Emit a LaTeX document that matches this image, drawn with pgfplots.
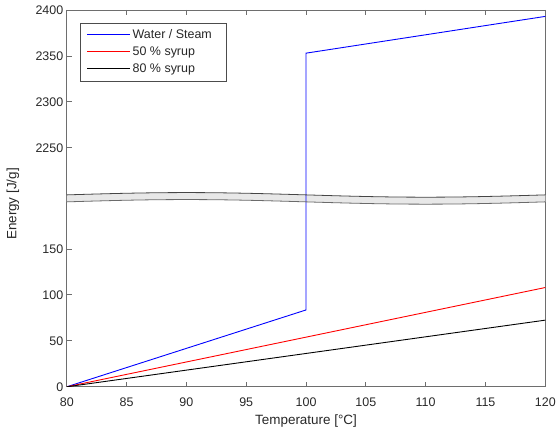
\documentclass[border=0pt]{standalone}
\usepackage{fontspec}
\setmainfont{Liberation Sans}
\usepackage{pgfplots}
\usepackage{pgfplotstable}
\pgfplotsset{compat=1.18}
\usepgfplotslibrary{fillbetween}

\definecolor{axgray}{RGB}{110,110,110}
\definecolor{txtgray}{RGB}{40,40,40}
\definecolor{bandfill}{RGB}{232,232,232}
\definecolor{bandline}{RGB}{70,70,70}
\definecolor{syrupred}{RGB}{255,0,0}

% break band (display units, wave across the axis)
\pgfplotstableread{
x    up      lo
80   208.80  201.20
82   209.57  201.97
84   210.27  202.67
86   210.82  203.22
88   211.18  203.58
90   211.30  203.70
92   211.18  203.58
94   210.82  203.22
96   210.27  202.67
98   209.57  201.97
100  208.80  201.20
102  208.03  200.43
104  207.33  199.73
106  206.78  199.18
108  206.42  198.82
110  206.30  198.70
112  206.42  198.82
114  206.78  199.18
116  207.33  199.73
118  208.03  200.43
120  208.80  201.20
}\band

\begin{document}
\begin{tikzpicture}
\begin{axis}[
    scale only axis,
    width=480pt, height=378pt,
    xmin=80, xmax=120,
    ymin=0, ymax=410,
    xtick={80,85,...,120},
    ytick={0,50,100,150,260,310,360,410},
    yticklabels={0,50,100,150,2250,2300,2350,2400},
    y filter/.expression={y>1000 ? y-1990 : y},
    tick align=inside,
    xtick pos=both, ytick pos=left,
    major tick length=5pt,
    axis line style={axgray, line width=0.8pt},
    every tick/.style={axgray, line width=0.8pt},
    tick label style={font=\fontsize{12.5}{14}\selectfont, text=txtgray},
    /pgf/number format/assume math mode=true,
    xticklabel style={yshift=-8pt},
    xlabel={Temperature [°C]},
    ylabel={Energy [J/g]},
    every axis x label/.style={at={(axis description cs:0.5,-0.09)}, anchor=center,
        font=\fontsize{13.5}{15}\selectfont, text=txtgray},
    every axis y label/.style={at={(axis description cs:-0.1125,0.485)}, rotate=90, anchor=center,
        font=\fontsize{13.5}{15}\selectfont, text=txtgray},
    legend cell align=left,
    legend style={at={(0,1)}, anchor=north west, xshift=14pt, yshift=-13pt,
        draw=none, fill=white,
        font=\fontsize{12.5}{14}\selectfont, text=txtgray,
        inner xsep=6pt, inner ysep=4pt, row sep=3pt},
    legend image code/.code={\draw[#1] (0pt,0pt) -- (43pt,0pt);},
  ]
  \addplot[draw=blue, line width=0.9pt] coordinates {(80,0) (100,83.6) (100,2353) (120,2393)};
  \addlegendentry{Water / Steam}
  \addplot[draw=syrupred, line width=0.9pt] coordinates {(80,0) (120,108)};
  \addlegendentry{50 \% syrup}
  \addplot[draw=black, line width=0.9pt] coordinates {(80,0) (120,72.5)};
  \addlegendentry{80 \% syrup}

  \addplot[draw=none, name path=up, forget plot] table[x=x, y=up] {\band};
  \addplot[draw=none, name path=lo, forget plot] table[x=x, y=lo] {\band};
  \addplot[bandfill, forget plot] fill between[of=up and lo];
  \addplot[bandline, line width=0.8pt, smooth, forget plot] table[x=x, y=up] {\band};
  \addplot[bandline!80, line width=0.8pt, smooth, forget plot] table[x=x, y=lo] {\band};
\end{axis}
\draw[black!70, line width=0.5pt] (current axis.north west) ++(14pt,-13pt) rectangle ++(146pt,-59pt);
\path (current axis.south west) ++(-67pt,-50pt) rectangle ++(559pt,438pt);
\end{tikzpicture}
\end{document}
